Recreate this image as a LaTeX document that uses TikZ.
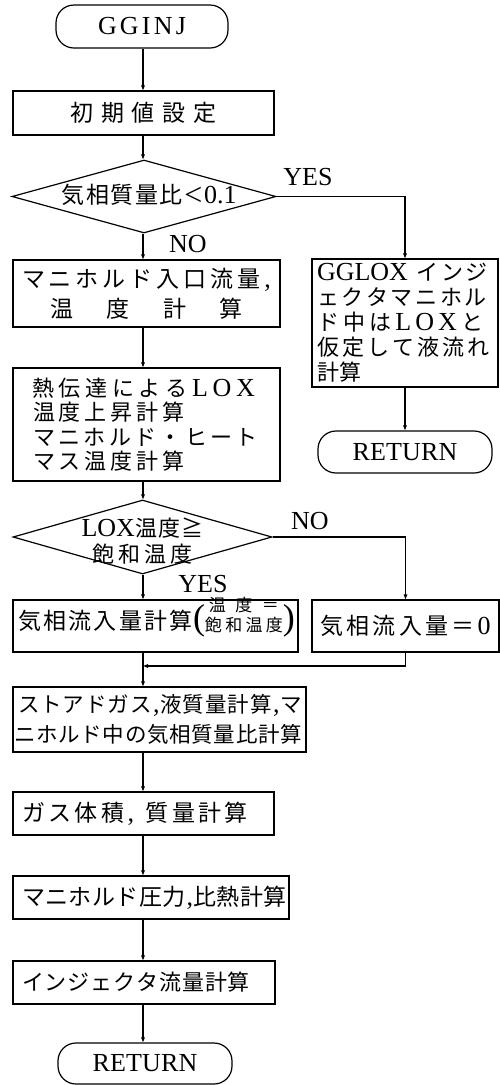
\documentclass[tikz,border=0pt]{standalone}
\usepackage{fontspec}
\setmainfont{Liberation Serif}
\newfontfamily\jpfont{Noto Sans CJK JP}
\usetikzlibrary{shapes.geometric,arrows.meta}
\newcommand\jp[2]{\jpfont\fontsize{#1}{#2}\selectfont}
\newcommand\la{\rmfamily\fontsize{26}{26}\selectfont}
\makeatletter
\newcommand\spr[2]{\makebox[#1][s]{\let\spr@sep\relax\@tfor\spr@c:=#2\do{\spr@sep{\spr@c}\let\spr@sep\hss}}}
\makeatother
\newcommand\ztext[2]{\raisebox{0pt}[0pt][0pt]{\makebox[0pt]{\raisebox{#1}{#2}}}}
\tikzset{
  lw/.style={line width=1.2pt},
  box/.style={draw, lw, rectangle, inner sep=0pt},
  term/.style={draw, lw, rectangle, rounded corners=18pt, inner sep=0pt, font=\la},
  dia/.style={draw, lw, diamond, inner sep=0pt},
  lbl/.style={inner sep=0pt, font=\la},
  arr/.style={lw, -{Triangle[length=5pt,width=3.5pt]}}
}
\begin{document}
\begin{tikzpicture}[x=1pt,y=-1pt]
\useasboundingbox (0,0) rectangle (500,1085);
\coordinate (ax) at (143,0);
\coordinate (m) at (143,666);
\node[term, minimum width=172pt, minimum height=43pt] (start) at (142,26.5) {\spr{88pt}{GGINJ}};
\node[box, minimum width=261pt, minimum height=44pt, font=\jp{23}{25}] (init) at (143.5,113) {\spr{146pt}{初期値設定}};
\node[dia, minimum width=264pt, minimum height=73pt, font=\jp{23}{25}] (d1) at (144,196.5) {\ztext{-7pt}{\hspace*{10pt}\spr{175pt}{気相質量比{\rmfamily\fontsize{32}{32}\selectfont\raisebox{-2pt}{<}}{\la 0.1}}}};
\node[lbl] (yes1) at (308,177) {YES};
\node[lbl] (no1) at (188,244) {NO};
\node[box, minimum width=267pt, minimum height=67pt, align=center, font=\jp{23}{30}] (b3) at (146.5,293.5) {\spr{249pt}{マニホルド入口流量{\la ,}}\\\spr{192pt}{温度計算}};
\node[box, minimum width=186pt, minimum height=128pt, text width=186pt, align=left, font=\jp{22}{25}] (gglox) at (405,323) {\hspace*{5pt}\spr{171pt}{{\la GGLOX\hspace{6pt}}インジ}\\\hspace*{5pt}\spr{170pt}{ェクタマニホル}\\\hspace*{5pt}\spr{166pt}{ド中は{\la L}{\la O}{\la X}と}\\\hspace*{5pt}\spr{173pt}{仮定して液流れ}\\\hspace*{5pt}\spr{44pt}{計算}};
\node[term, minimum width=174pt, minimum height=42pt] (ret1) at (405,452) {\spr{105pt}{RETURN}};
\node[box, minimum width=267pt, minimum height=113pt, text width=267pt, align=left, font=\jp{22}{24.5}] (b4) at (146.5,424.5) {\hspace*{19pt}\spr{223pt}{熱伝達による{\la L}{\la O}{\la X}}\\\hspace*{20pt}\spr{152pt}{温度上昇計算}\\\hspace*{20pt}\spr{225pt}{マニホルド・ヒート}\\\hspace*{20pt}\spr{152pt}{マス温度計算}};
\node[dia, minimum width=259pt, minimum height=74pt, font=\jp{22}{22}] (d2) at (142.5,537) {\ztext{-25pt}{\begin{tabular}[b]{@{}c@{}}\spr{122pt}{{\la LOX}温度≧}\\\spr{100pt}{飽和温度}\end{tabular}}};
\node[lbl] (no2) at (310,521) {NO};
\node[lbl] (yes2) at (203,584) {YES};
\node[box, minimum width=285pt, minimum height=52pt, text width=285pt, align=left, font=\jp{23}{25}] (b5) at (155.5,626) {\raisebox{0pt}[16pt][10pt]{\hspace*{5pt}\spr{175pt}{気相流入量計算}{\rmfamily\fontsize{36}{36}\selectfont (}\raisebox{-2pt}{\jp{17}{18}\begin{tabular}[b]{@{}c@{}}\spr{70pt}{温度＝}\\\spr{78pt}{飽和温度}\end{tabular}}{\rmfamily\fontsize{36}{36}\selectfont )}}};
\node[box, minimum width=187pt, minimum height=52pt, font=\jp{23}{25}] (b6) at (405.5,626) {\spr{170pt}{気相流入量＝{\la 0}}};
\node[box, minimum width=293pt, minimum height=65pt, text width=293pt, align=left, font=\jp{21.5}{30}] (b7) at (159.5,719.5) {\hspace*{5pt}\spr{284pt}{ストアドガス{\la ,}液質量計算{\la ,}マ}\\\hspace*{1pt}\spr{288pt}{ニホルド中の気相質量比計算}};
\node[box, minimum width=261pt, minimum height=43pt, text width=261pt, align=left, font=\jp{23}{25}] (b8) at (143.5,813.5) {\hspace*{9pt}\spr{226pt}{ガス体積{\la ,\hspace{8pt}}質量計算}};
\node[box, minimum width=276pt, minimum height=43pt, text width=276pt, align=left, font=\jp{23}{25}] (b9) at (151,897.5) {\hspace*{9pt}\spr{265pt}{マニホルド圧力{\la ,}比熱計算}};
\node[box, minimum width=262pt, minimum height=43pt, text width=262pt, align=left, font=\jp{22}{25}] (b10) at (144,982.5) {\hspace*{9pt}\spr{228pt}{インジェクタ流量計算}};
\node[term, minimum width=174pt, minimum height=41pt] (ret2) at (145,1063.5) {\spr{105pt}{RETURN}};
\draw[arr] (start.south -| ax) -- (init.north -| ax);
\draw[arr] (init.south -| ax) -- (d1.north -| ax);
\draw[arr] (d1.south -| ax) -- (b3.north -| ax);
\draw[arr] (d1.east) -| (gglox.north);
\draw[arr] (gglox.south) -- (ret1.north);
\draw[arr] (b3.south -| ax) -- (b4.north -| ax);
\draw[arr] (b4.south -| ax) -- (d2.north -| ax);
\draw[arr] (d2.south -| ax) -- (b5.north -| ax);
\draw[arr] (d2.east) -| (b6.north);
\draw[arr] (b6.south) |- (m);
\draw[arr] (b5.south -| ax) -- (b7.north -| ax);
\draw[arr] (b7.south -| ax) -- (b8.north -| ax);
\draw[arr] (b8.south -| ax) -- (b9.north -| ax);
\draw[arr] (b9.south -| ax) -- (b10.north -| ax);
\draw[arr] (b10.south -| ax) -- (ret2.north -| ax);
\end{tikzpicture}
\end{document}
